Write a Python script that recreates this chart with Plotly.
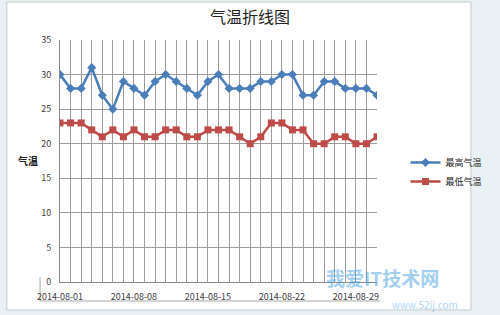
import plotly.graph_objects as go
import pandas as pd

dates = pd.date_range("2014-08-01", "2014-08-31", freq="D").strftime("%Y-%m-%d").tolist()
high_temp = [30, 28, 28, 31, 27, 25, 29, 28, 27, 29, 30, 29, 28, 27, 29, 30, 28, 28,
             28, 29, 29, 30, 30, 27, 27, 29, 29, 28, 28, 28, 27]
low_temp = [23, 23, 23, 22, 21, 22, 21, 22, 21, 21, 22, 22, 21, 21, 22, 22, 22, 21,
            20, 21, 23, 23, 22, 22, 20, 20, 21, 21, 20, 20, 21]
series_names = ["最高气温", "最低气温"]
x_tick_labels = ["2014-08-01", "2014-08-08", "2014-08-15", "2014-08-22", "2014-08-29"]

FONT = "Noto Sans CJK SC"
GRID = "#9c9c9c"

fig = go.Figure()
fig.add_trace(go.Scatter(x=dates, y=high_temp, name=series_names[0], mode="lines+markers",
                         line=dict(color="#4A7EBB", width=2.5),
                         marker=dict(symbol="diamond", size=7, color="#4A7EBB")))
fig.add_trace(go.Scatter(x=dates, y=low_temp, name=series_names[1], mode="lines+markers",
                         line=dict(color="#BE4B48", width=2.5),
                         marker=dict(symbol="square", size=7, color="#BE4B48")))

L, R, T, B = 60, 106, 40, 33
W, H = 500, 315
pw, ph = W - L - R, H - T - B

def px(x):
    return (x - L) / pw

def py(y):
    return (H - B - y) / ph

fig.update_layout(
    width=W, height=H,
    margin=dict(l=L, r=R, t=T, b=B),
    paper_bgcolor="#e9f1f4",
    plot_bgcolor="white",
    font=dict(family=FONT, size=9, color="#404040"),
    title=dict(text="气温折线图", x=0.5, xanchor="center", y=1 - 17 / H, yanchor="middle",
               font=dict(family=FONT, size=16, color="#222222")),
    showlegend=True,
    legend=dict(x=px(424), y=py(148), xanchor="left", yanchor="top",
                bgcolor="rgba(0,0,0,0)", itemwidth=30, tracegroupgap=0,
                font=dict(family=FONT, size=9, color="#222222")),
    xaxis=dict(type="date", range=[dates[0], dates[-1]],
               tickvals=x_tick_labels, ticktext=x_tick_labels,
               showgrid=True, gridcolor=GRID, gridwidth=1,
               minor=dict(dtick=86400000, showgrid=True, gridcolor=GRID, gridwidth=1),
               showline=True, linecolor="#8a8a8a", linewidth=1,
               ticks="", ticklabelstandoff=6,
               tickfont=dict(size=9, color="#404040"), fixedrange=True),
    yaxis=dict(range=[0, 35], dtick=5, tick0=0,
               showgrid=True, gridcolor=GRID, gridwidth=1,
               showline=True, linecolor="#8a8a8a", linewidth=1,
               zeroline=False, ticks="", ticklabelstandoff=6,
               tickfont=dict(size=9, color="#404040"), fixedrange=True),
    shapes=[
        dict(type="rect", xref="paper", yref="paper", layer="below",
             x0=px(4), x1=px(493), y0=py(310), y1=py(2),
             fillcolor="white", line=dict(color="#c4c8ca", width=1)),
        dict(type="line", xref="paper", yref="paper", layer="below",
             x0=px(39), x1=px(39), y0=py(301), y1=py(277),
             line=dict(color="#a8a8a8", width=1)),
        dict(type="line", xref="paper", yref="paper", layer="below",
             x0=px(39), x1=px(397), y0=py(301), y1=py(301),
             line=dict(color="#a8a8a8", width=1)),
    ],
    annotations=[
        dict(text="<b>气温</b>", xref="paper", yref="paper", x=px(26), y=py(160),
             showarrow=False, xanchor="center", yanchor="middle",
             font=dict(family=FONT, size=10, color="#222222")),
        dict(text="<b>我爱IT技术网</b>", xref="paper", yref="paper", x=px(400), y=py(277),
             showarrow=False, xanchor="center", yanchor="middle", opacity=0.5,
             font=dict(family=FONT, size=19, color="#4aa3e6")),
        dict(text="www.52ij.com", xref="paper", yref="paper", x=px(445), y=py(304),
             showarrow=False, xanchor="center", yanchor="middle", opacity=0.45,
             font=dict(family=FONT, size=10, color="#4aa3e6")),
    ],
)

fig.write_html("out.html")
